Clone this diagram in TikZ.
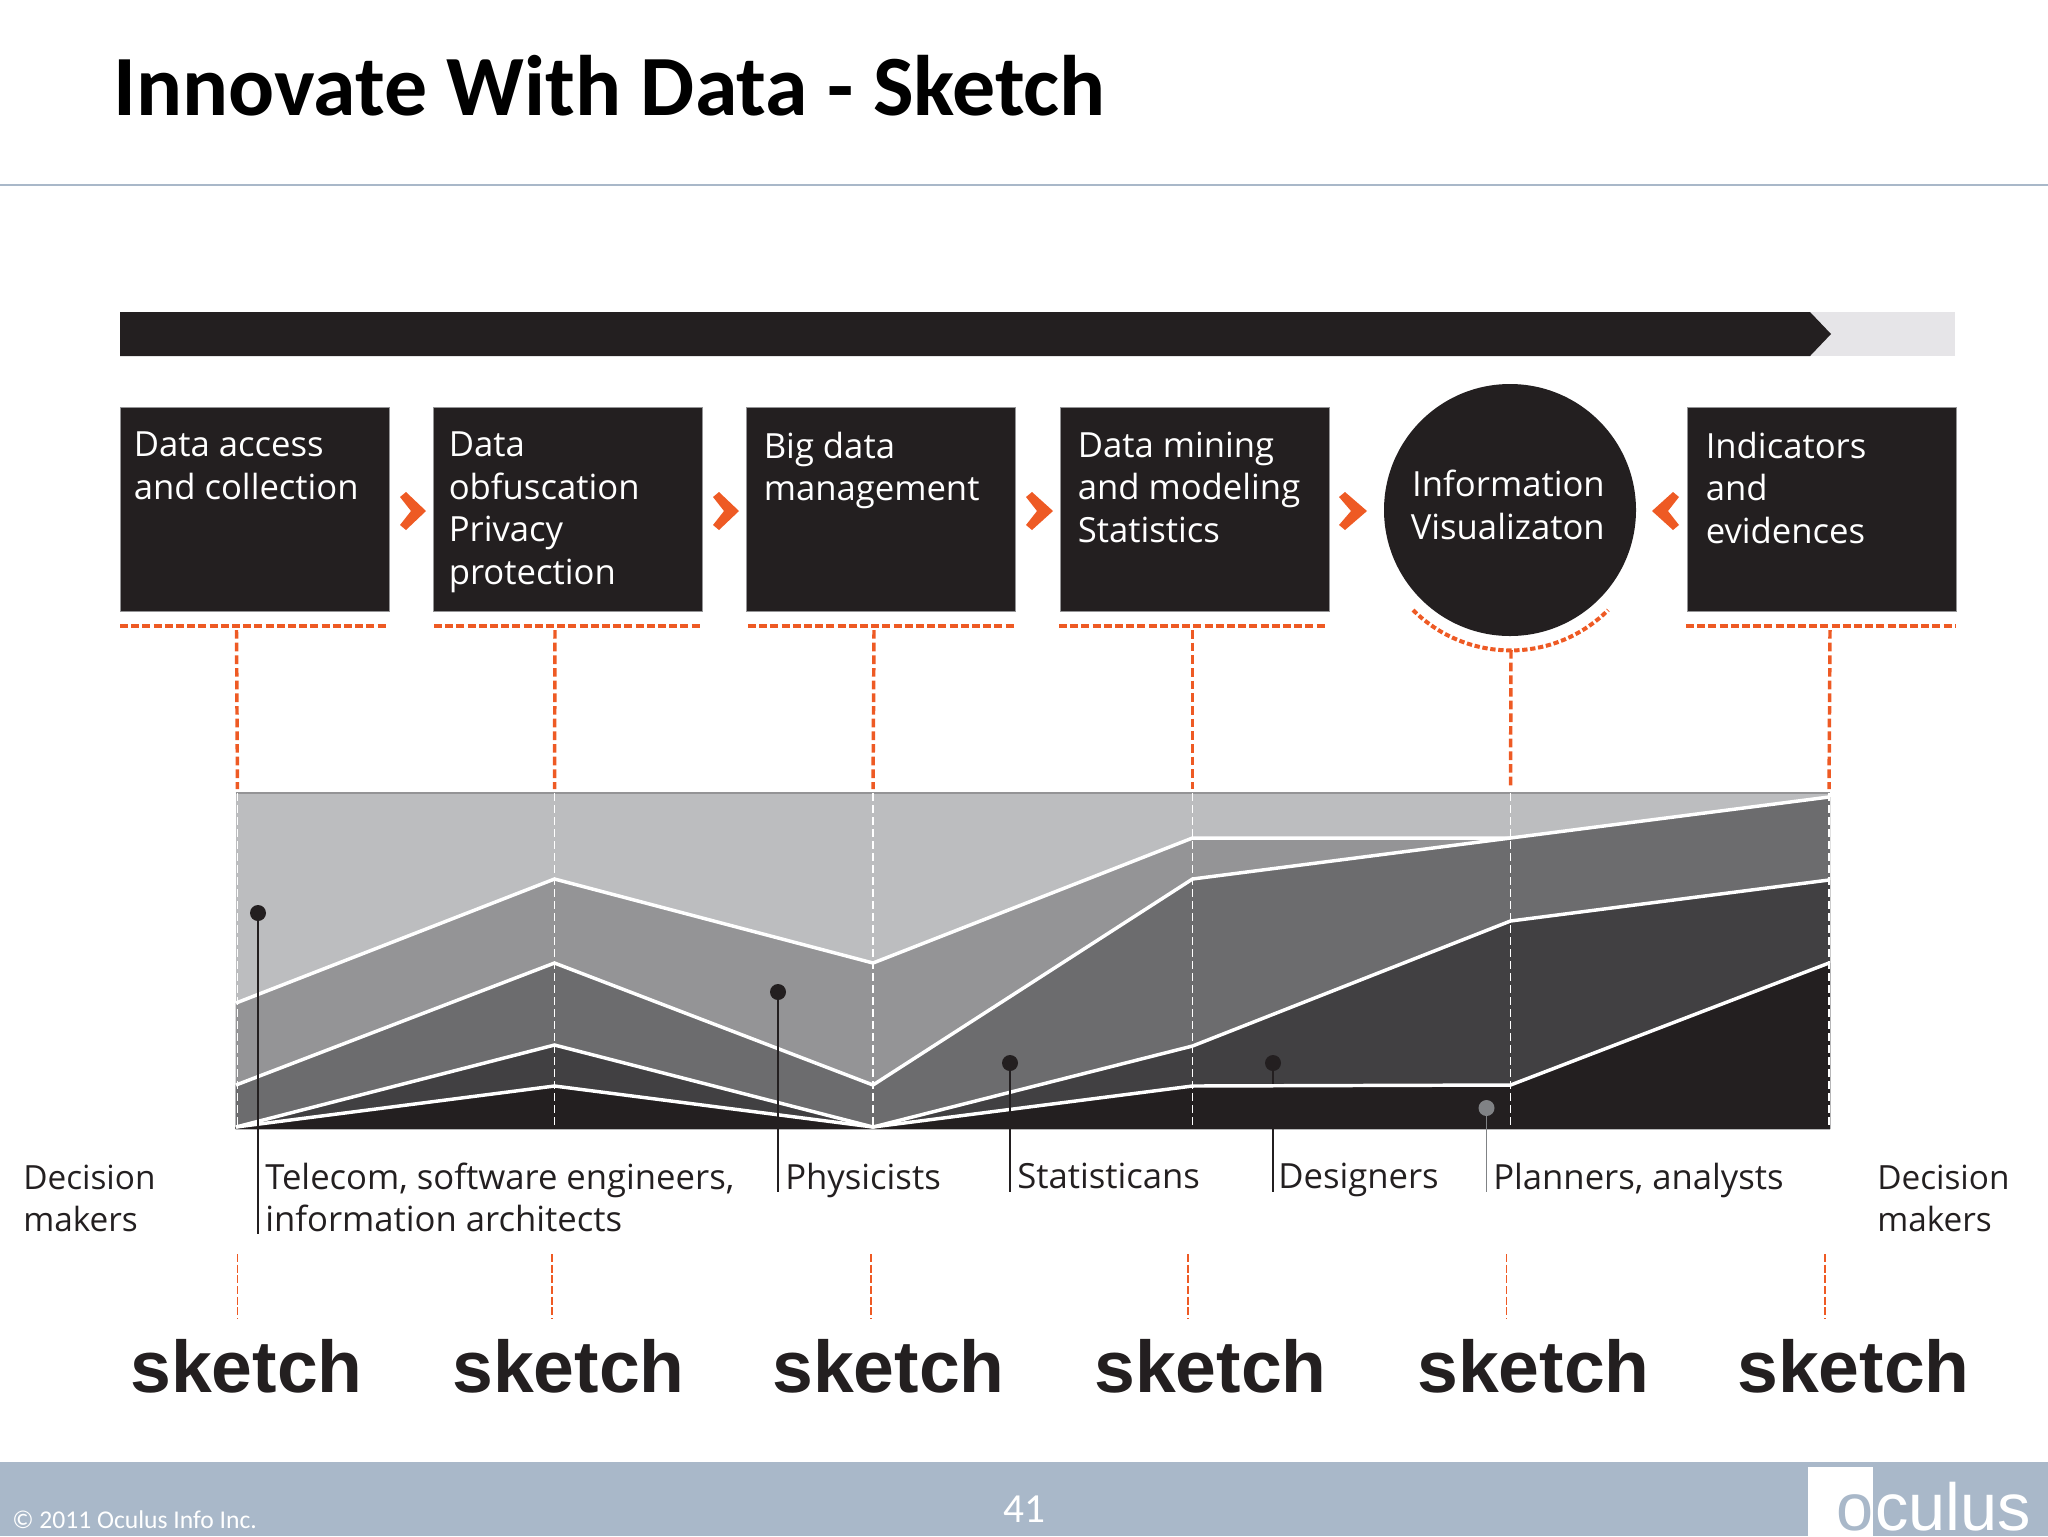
\documentclass[tikz,border=0pt]{standalone}
\usepackage{fontspec}
\setmainfont{Open Sans}
\newfontfamily\titlefont{Carlito}
\newfontfamily\sketchfont{Liberation Sans}
\usepackage{tikz}

\definecolor{barblack}{HTML}{231F20}
\definecolor{barghost}{HTML}{E6E5E8}
\definecolor{dashorange}{HTML}{EE5A24}
\definecolor{footerblue}{HTML}{A9B8C9}
\definecolor{layera}{HTML}{BCBDBF}
\definecolor{layerb}{HTML}{949496}
\definecolor{layerc}{HTML}{6C6C6E}
\definecolor{layerd}{HTML}{414042}
\definecolor{dotgray}{HTML}{808285}

\tikzset{
  stepbox/.style={draw=layerb,line width=0.75pt,fill=barblack,inner sep=0pt,anchor=north west,minimum width=202pt,minimum height=153pt},
  boxtext/.style={anchor=north west,inner sep=0.75pt,align=left,text=white,font=\fontsize{26}{32}\selectfont},
  plaintext/.style={anchor=north west,inner sep=0.75pt,align=left,text=barblack,font=\fontsize{26}{31}\selectfont},
  sidetext/.style={plaintext,font=\fontsize{25}{31}\selectfont},
  sketchtext/.style={anchor=base west,inner sep=0pt,text=barblack,font=\sketchfont\bfseries\fontsize{55}{60}\selectfont},
  chevron/.style={fill=dashorange,draw=none},
  orangerule/.style={draw=dashorange,line width=3pt,dash pattern=on 6pt off 2.4pt},
  orangelink/.style={draw=dashorange,line width=2.6pt,dash pattern=on 6.5pt off 3pt,shorten >=3pt},
  thinlink/.style={draw=dashorange,line width=1pt,dash pattern=on 6pt off 2pt},
  layerline/.style={draw=white,line width=2.6pt,line join=miter},
  columnline/.style={draw=white,line width=1.2pt,dash pattern=on 6pt off 3pt},
  dot/.style={circle,fill=barblack,inner sep=0pt,minimum size=12pt},
  leader/.style={draw=barblack,line width=1.3pt},
}

\begin{document}
\begin{tikzpicture}[x=0.75pt,y=0.75pt,yscale=-1,xscale=1]
            \useasboundingbox (0,0) rectangle (2048,1536);

            % Title
            \draw (113,115) node [anchor=base west,inner sep=0pt,font=\titlefont\bfseries\fontsize{64.4}{70}\selectfont] (title) {Innovate With Data - Sketch};
            \draw [draw=footerblue,line width=2.2pt] (0,185) -- (2048,185);

            % Top Bar
            \fill [barghost] (1800,312) rectangle (1955,356);
            \fill [barblack] (120,312) -- (1810,312) -- (1831,334) -- (1810,356) -- (120,356) -- cycle;

            % Boxes
            \draw (120,407) node [stepbox] (access) {};
            \draw (433,407) node [stepbox] (obfuscation) {};
            \draw (746,407) node [stepbox] (bigdata) {};
            \draw (1060,407) node [stepbox] (mining) {};
            \draw (1687,407) node [stepbox] (indicators) {};
            \draw (1510,510) node [circle,fill=barblack,inner sep=0pt,minimum size=189pt] (visual) {};

            % Box Labels
            \draw (132.5,430.5) node [boxtext] (accesstext) {Data access\\and collection};
            \draw (447.5,430.5) node [boxtext] (obfuscationtext) {Data\\obfuscation\\Privacy\\protection};
            \draw (762.5,430.5) node [boxtext] (bigdatatext) {Big data\\management};
            \draw (1076.5,430.5) node [boxtext] (miningtext) {Data mining\\and modeling\\Statistics};
            \draw (1704.5,430.5) node [boxtext] (indicatorstext) {Indicators\\and\\evidences};
            \draw (1606,469) node [boxtext,anchor=north east,align=right] (visualtext) {Information\\Visualizaton};

            % Chevrons
            \fill [chevron] (400,497) -- (406,492) -- (426,511) -- (406,530) -- (400,525) -- (411,511) -- cycle;
            \fill [chevron] (713,497) -- (719,492) -- (739,511) -- (719,530) -- (713,525) -- (724,511) -- cycle;
            \fill [chevron] (1026,497) -- (1032,492) -- (1053,511) -- (1032,530) -- (1026,525) -- (1037,511) -- cycle;
            \fill [chevron] (1339,497) -- (1345,492) -- (1367,511) -- (1345,530) -- (1339,525) -- (1351,511) -- cycle;
            \fill [chevron] (1679,497) -- (1673,492) -- (1652,511) -- (1673,530) -- (1679,525) -- (1668,511) -- cycle;

            % Orange Rules
            \draw [orangerule] (120,626) -- (388,626);
            \draw [orangerule] (434,626) -- (702,626);
            \draw [orangerule] (748,626) -- (1016,626);
            \draw [orangerule] (1059,626) -- (1327,626);
            \draw [orangerule] (1686,626) -- (1955,626);
            \draw [orangerule,dash pattern=on 4pt off 2pt] (1413,610) arc (135:45:138);

            % Chart Corners
            \coordinate (top0) at (237.5,793);
            \coordinate (top1) at (554.5,793);
            \coordinate (top2) at (873,793);
            \coordinate (top3) at (1192.5,793);
            \coordinate (top4) at (1510.5,793);
            \coordinate (top5) at (1829,793);
            \coordinate (bot0) at (237.5,1127);
            \coordinate (bot1) at (554.5,1127);
            \coordinate (bot2) at (873,1127);
            \coordinate (bot3) at (1192.5,1127);
            \coordinate (bot4) at (1510.5,1127);
            \coordinate (bot5) at (1829,1127);

            % Links Down To The Chart
            \coordinate (rule0) at (236.5,630);
            \coordinate (rule1) at (555,630);
            \coordinate (rule2) at (874,630);
            \coordinate (rule3) at (1192.5,630);
            \coordinate (rule4) at (1511,650);
            \coordinate (rule5) at (1830,630);
            \draw [orangelink] (rule0) -- (top0);
            \draw [orangelink] (rule1) -- (top1);
            \draw [orangelink] (rule2) -- (top2);
            \draw [orangelink] (rule3) -- (top3);
            \draw [orangelink] (rule4) -- (top4);
            \draw [orangelink] (rule5) -- (top5);

            % Layers
            \fill [layera] (235.5,793) rectangle (1830,1129);
            \fill [layerb] (235.5,1003) -- (554.5,879) -- (873,963) -- (1192.5,838) -- (1510.5,838) -- (1830,797) -- (1830,1129) -- (235.5,1129) -- cycle;
            \fill [layerc] (235.5,1085) -- (554.5,963) -- (873,1085) -- (1192.5,879) -- (1510.5,838) -- (1830,797) -- (1830,1129) -- (235.5,1129) -- cycle;
            \fill [layerd] (235.5,1127) -- (554.5,1045) -- (873,1127) -- (1192.5,1046) -- (1510.5,921) -- (1830,880) -- (1830,1129) -- (235.5,1129) -- cycle;
            \fill [barblack] (235.5,1127) -- (554.5,1086) -- (873,1127) -- (1192.5,1086) -- (1510.5,1085) -- (1830,963) -- (1830,1129) -- (235.5,1129) -- cycle;
            \draw [draw=layerb,line width=1.2pt] (235.5,793) -- (1830,793);

            % Designers Leader Goes Under The Lines
            \draw (1273,1063) node [dot] (designersdot) {};
            \coordinate (designersend) at (1273,1192);
            \draw [leader] (designersdot) -- (designersend);

            % Layer Lines
            \draw [layerline] (236,1003) -- (554.5,879) -- (873,963) -- (1192.5,838) -- (1510.5,838) -- (1829,797);
            \draw [layerline] (236,1085) -- (554.5,963) -- (873,1085) -- (1192.5,879) -- (1510.5,838);
            \draw [layerline] (236,1127) -- (554.5,1045) -- (873,1127) -- (1192.5,1046) -- (1510.5,921) -- (1829,880);
            \draw [layerline] (236,1127) -- (554.5,1086) -- (873,1127) -- (1192.5,1086) -- (1510.5,1085) -- (1829,963);

            % Column Lines
            \draw [columnline] (top0) -- (bot0);
            \draw [columnline] (top1) -- (bot1);
            \draw [columnline] (top2) -- (bot2);
            \draw [columnline] (top3) -- (bot3);
            \draw [columnline] (top4) -- (bot4);
            \draw [columnline] (top5) -- (bot5);

            % Leaders
            \draw (258,913) node [dot] (telecomdot) {};
            \draw (778,992) node [dot] (physicistsdot) {};
            \draw (1010,1063) node [dot] (statisticansdot) {};
            \draw (1486.5,1108) node [dot,fill=dotgray] (plannersdot) {};
            \coordinate (telecomend) at (258,1234);
            \coordinate (physicistsend) at (778,1192);
            \coordinate (statisticansend) at (1010,1192);
            \coordinate (plannersend) at (1486.5,1192);
            \draw [leader] (telecomdot) -- (telecomend);
            \draw [leader] (physicistsdot) -- (physicistsend);
            \draw [leader] (statisticansdot) -- (statisticansend);
            \draw [leader,draw=dotgray] (plannersdot) -- (plannersend);

            % Labels
            \draw (22,1164) node [sidetext] (leftmakers) {Decision\\makers};
            \draw (264,1162) node [plaintext] (telecomtext) {Telecom, software engineers,\\information architects};
            \draw (784,1162) node [plaintext] (physicists) {Physicists};
            \draw (1016,1162) node [plaintext] (statisticans) {Statisticans};
            \draw (1277,1162) node [plaintext] (designers) {Designers};
            \draw (1492,1162) node [plaintext] (planners) {Planners, analysts};
            \draw (1876,1164) node [sidetext] (rightmakers) {Decision\\makers};

            % Short Links
            \coordinate (link0a) at (237.5,1254);
            \coordinate (link0b) at (237.5,1319);
            \coordinate (link1a) at (552,1254);
            \coordinate (link1b) at (552,1319);
            \coordinate (link2a) at (871,1254);
            \coordinate (link2b) at (871,1319);
            \coordinate (link3a) at (1188,1254);
            \coordinate (link3b) at (1188,1319);
            \coordinate (link4a) at (1506.5,1254);
            \coordinate (link4b) at (1506.5,1319);
            \coordinate (link5a) at (1825,1254);
            \coordinate (link5b) at (1825,1319);
            \draw [thinlink] (link0a) -- (link0b);
            \draw [thinlink] (link1a) -- (link1b);
            \draw [thinlink] (link2a) -- (link2b);
            \draw [thinlink] (link3a) -- (link3b);
            \draw [thinlink] (link4a) -- (link4b);
            \draw [thinlink] (link5a) -- (link5b);

            % Sketch Words
            \draw (130,1392) node [sketchtext] (sketcha) {sketch};
            \draw (452,1392) node [sketchtext] (sketchb) {sketch};
            \draw (772,1392) node [sketchtext] (sketchc) {sketch};
            \draw (1094,1392) node [sketchtext] (sketchd) {sketch};
            \draw (1417,1392) node [sketchtext] (sketche) {sketch};
            \draw (1737,1392) node [sketchtext] (sketchf) {sketch};

            % Footer
            \fill [footerblue] (0,1462) rectangle (2048,1536);
            \fill [white] (1808,1467) rectangle (1873,1536);
            \draw (12,1528) node [anchor=base west,inner sep=0pt,text=white,font=\titlefont\fontsize{19.2}{24}\selectfont] (copyright) {© 2011 Oculus Info Inc.};
            \draw (1024,1522) node [anchor=base,inner sep=0pt,text=white,font=\titlefont\fontsize{31}{36}\selectfont] (pagenumber) {41};
            \draw (1836,1530) node [anchor=base west,inner sep=0pt,text=footerblue,font=\sketchfont\fontsize{50}{56}\selectfont] (logoo) {o};
            \draw (1875,1530) node [anchor=base west,inner sep=0pt,text=white,font=\sketchfont\fontsize{50}{56}\selectfont] (logotext) {culus};

            \end{tikzpicture}
\end{document}
